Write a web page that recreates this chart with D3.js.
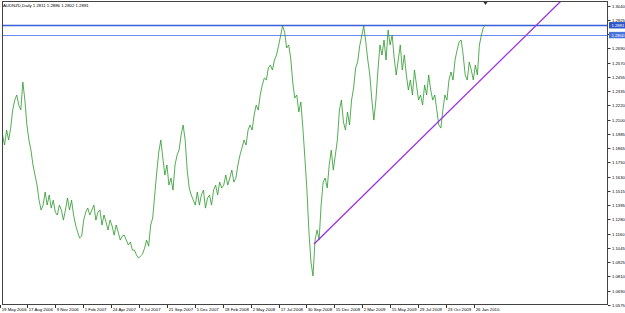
<!DOCTYPE html>
<html>
<head>
<meta charset="utf-8">
<script src="https://cdn.jsdelivr.net/npm/d3@7/dist/d3.min.js"></script>
<style>
  html, body { margin: 0; padding: 0; background: #fff; }
  svg { display: block; font-family: "Liberation Sans", Arial, sans-serif; }
</style>
</head>
<body>
<svg width="625" height="313"></svg>
<script>
let title = "AUDNZD,Daily  1.2811 1.2886 1.2802 1.2881"

// daily closes, one reading every 4 bars starting at bar 6
let firstBar = 6
let barStep = 4
let closes = [
  1.1974, 1.1892, 1.2016, 1.1933, 1.2032,
  1.2181, 1.2263, 1.2305, 1.2222, 1.2181,
  1.2412, 1.2263, 1.2057, 1.1933, 1.1850,
  1.1727, 1.1644, 1.1561, 1.1437, 1.1355,
  1.1396, 1.1504, 1.1396, 1.1479, 1.1371,
  1.1437, 1.1338, 1.1314, 1.1396, 1.1355,
  1.1272, 1.1355, 1.1454, 1.1355, 1.1437,
  1.1314, 1.1231, 1.1173, 1.1124, 1.1140,
  1.1272, 1.1338, 1.1371, 1.1314, 1.1355,
  1.1396, 1.1272, 1.1338, 1.1355, 1.1231,
  1.1314, 1.1256, 1.1190, 1.1272, 1.1223,
  1.1148, 1.1231, 1.1173, 1.1107, 1.1140,
  1.1148, 1.1107, 1.1066, 1.1091, 1.1024,
  1.1024, 1.0983, 1.0958, 1.0975, 1.0991,
  1.1041, 1.1107, 1.1057, 1.1231, 1.1289,
  1.1479, 1.1669, 1.1834, 1.1933, 1.1784,
  1.1644, 1.1727, 1.1561, 1.1619, 1.1520,
  1.1727, 1.1809, 1.1850, 1.1974, 1.2057,
  1.1933, 1.1685, 1.1537, 1.1479, 1.1437,
  1.1396, 1.1504, 1.1396, 1.1479, 1.1520,
  1.1371, 1.1454, 1.1479, 1.1396, 1.1520,
  1.1561, 1.1479, 1.1586, 1.1537, 1.1561,
  1.1644, 1.1561, 1.1619, 1.1685, 1.1586,
  1.1619, 1.1727, 1.1809, 1.1867, 1.1933,
  1.1892, 1.2016, 1.2057, 1.2016, 1.2140,
  1.2222, 1.2181, 1.2305, 1.2387, 1.2445,
  1.2429, 1.2528, 1.2553, 1.2511, 1.2594,
  1.2635, 1.2709, 1.2792, 1.2875, 1.2825,
  1.2693, 1.2718, 1.2610, 1.2412, 1.2280,
  1.2305, 1.2164, 1.2247, 1.2032, 1.1784,
  1.1520, 1.1173, 1.0925, 1.0810, 1.1107,
  1.1190, 1.1107, 1.1396, 1.1586, 1.1619,
  1.1537, 1.1727, 1.1850, 1.1685, 1.1809,
  1.1933, 1.2181, 1.2263, 1.2082, 1.2016,
  1.2164, 1.2057, 1.2263, 1.2363, 1.2528,
  1.2577, 1.2709, 1.2792, 1.2875, 1.2743,
  1.2594, 1.2470, 1.2263, 1.2098, 1.2263,
  1.2511, 1.2718, 1.2635, 1.2759, 1.2594,
  1.2842, 1.2718, 1.2800, 1.2610, 1.2470,
  1.2594, 1.2718, 1.2511, 1.2635, 1.2470,
  1.2346, 1.2429, 1.2305, 1.2511, 1.2387,
  1.2263, 1.2305, 1.2222, 1.2387, 1.2305,
  1.2470, 1.2346, 1.2263, 1.2305, 1.2181,
  1.2057, 1.2032, 1.2181, 1.2305, 1.2263,
  1.2429, 1.2495, 1.2429, 1.2594, 1.2676,
  1.2743, 1.2759, 1.2635, 1.2470, 1.2429,
  1.2577, 1.2511, 1.2429, 1.2553, 1.2470,
  1.2718, 1.2800, 1.2866, 1.2881
]

// date labels on the time axis, one every 55 bars
let labelEvery = 55
let dateLabels = [
  "19 May 2006", "17 Aug 2006", "9 Nov 2006", "1 Feb 2007", "24 Apr 2007",
  "9 Jul 2007", "21 Sep 2007", "5 Dec 2007", "18 Feb 2008", "2 May 2008",
  "17 Jul 2008", "30 Sep 2008", "15 Dec 2008", "2 Mar 2009", "15 May 2009",
  "29 Jul 2009", "23 Oct 2009", "26 Jan 2010"
]

let priceTicks = [
  1.3040, 1.2925, 1.2805, 1.2690, 1.2570, 1.2455, 1.2335, 1.2220, 1.2100, 1.1985, 1.1865,
  1.1750, 1.1630, 1.1515, 1.1395, 1.1280, 1.1160, 1.1045, 1.0925, 1.0810, 1.0690, 1.0575
]

// horizontal levels drawn on the chart
let levels = [1.2881, 1.2800]
let levelColors = ["#3860d8", "#6a8cf2"]

// support trendline: two anchor points [bar, price], extended as a ray
let trendBars = [620, 1100]
let trendPrices = [1.1074, 1.3053]

let width = 625
let height = 313
let plotLeft = 2, plotRight = 608, plotTop = 1, plotBottom = 305

let svg = d3.select('svg')

let xScale = d3.scaleLinear().domain([0, 1000]).range([-0.5, 506.8])
let yScale = d3.scaleLinear().domain([1.0575, 1.3040]).range([304.5, 6])

svg.append('defs').append('clipPath').attr('id', 'plot')
  .append('rect')
  .attr('x', plotLeft).attr('y', plotTop)
  .attr('width', plotRight - plotLeft).attr('height', plotBottom - plotTop)

let plot = svg.append('g').attr('clip-path', 'url(#plot)')

// horizontal levels
levels.forEach((v, i) => {
  plot.append('line')
    .attr('x1', plotLeft).attr('x2', plotRight)
    .attr('y1', Math.round(yScale(v)) + 0.5).attr('y2', Math.round(yScale(v)) + 0.5)
    .attr('stroke', levelColors[i])
    .attr('stroke-width', i === 0 ? 1.5 : 1)
})

// price line
let line = d3.line()
  .x((d, i) => xScale(firstBar + i * barStep))
  .y(d => yScale(d))

plot.append('path')
  .datum(closes)
  .attr('fill', 'none')
  .attr('stroke', '#2a982a')
  .attr('stroke-width', 0.8)
  .attr('d', line)

// trendline ray
let slope = (trendPrices[1] - trendPrices[0]) / (trendBars[1] - trendBars[0])
let rayEnd = 1200
plot.append('line')
  .attr('x1', xScale(trendBars[0])).attr('y1', yScale(trendPrices[0]))
  .attr('x2', xScale(rayEnd)).attr('y2', yScale(trendPrices[0] + slope * (rayEnd - trendBars[0])))
  .attr('stroke', '#9b30e0')
  .attr('stroke-width', 1.3)

// frame
svg.append('rect')
  .attr('x', plotLeft + 0.5).attr('y', plotTop + 0.5)
  .attr('width', plotRight - plotLeft - 1).attr('height', plotBottom - plotTop - 1)
  .attr('fill', 'none')
  .attr('stroke', '#444')
  .attr('stroke-width', 1)

// chart shift marker
let lastBar = firstBar + (closes.length - 1) * barStep
let mx = xScale(lastBar)
svg.append('path')
  .attr('d', `M${mx - 2},${plotTop + 1} L${mx + 2},${plotTop + 1} L${mx},${plotTop + 4} Z`)
  .attr('fill', '#333')

// title
svg.append('text')
  .attr('x', 3).attr('y', 7)
  .attr('font-size', 4.3)
  .attr('fill', '#000')
  .text(title)

// price axis
let yAxis = svg.append('g')
priceTicks.forEach(v => {
  let y = Math.round(yScale(v)) + 0.5
  yAxis.append('line')
    .attr('x1', plotRight).attr('x2', plotRight + 2.5)
    .attr('y1', y).attr('y2', y)
    .attr('stroke', '#333')
  yAxis.append('text')
    .attr('x', plotRight + 4).attr('y', y + 1.4)
    .attr('font-size', 4.2)
    .attr('fill', '#000')
    .text(v.toFixed(4))
})

// level boxes on the price axis
levels.forEach((v, i) => {
  let y = yScale(v)
  yAxis.append('rect')
    .attr('x', plotRight + 1).attr('y', y - 3.2)
    .attr('width', 16).attr('height', 6.4)
    .attr('fill', i === 0 ? '#2f56c8' : '#4a74dc')
  yAxis.append('text')
    .attr('x', plotRight + 3.5).attr('y', y + 1.5)
    .attr('font-size', 4.2)
    .attr('fill', '#fff')
    .text(v.toFixed(4))
})

// time axis
let xAxis = svg.append('g')
dateLabels.forEach((d, i) => {
  let x = Math.round(xScale(i * labelEvery)) + 0.5
  xAxis.append('line')
    .attr('x1', x).attr('x2', x)
    .attr('y1', plotBottom).attr('y2', plotBottom + 3)
    .attr('stroke', '#333')
  xAxis.append('text')
    .attr('x', x + 1.2).attr('y', plotBottom + 5.5)
    .attr('font-size', 4.3)
    .attr('fill', '#000')
    .text(d)
})
</script>
</body>
</html>
